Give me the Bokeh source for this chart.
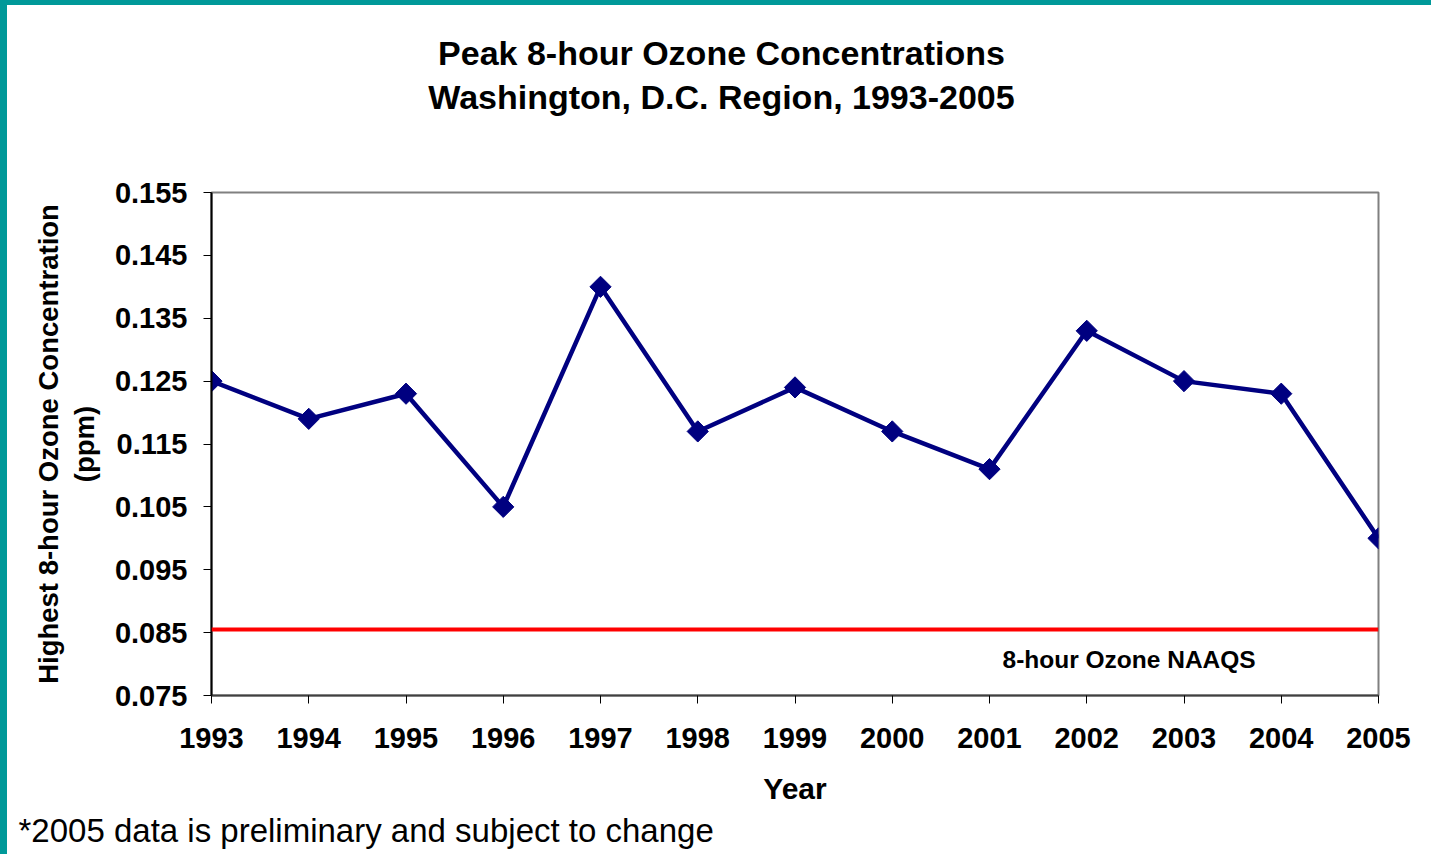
import numpy as np
from bokeh.plotting import figure
from bokeh.models import (Label, FixedTicker, PrintfTickFormatter, Span, Range1d, Title,
                          LinearAxis)
from bokeh.embed import file_html
from bokeh.resources import INLINE

# ---- data ----
years = [1993, 1994, 1995, 1996, 1997, 1998, 1999, 2000, 2001, 2002, 2003, 2004, 2005]
ozone_ppm = [0.125, 0.119, 0.123, 0.105, 0.140, 0.117, 0.124, 0.117, 0.111, 0.133, 0.125, 0.123, 0.100]
naaqs_ppm = 0.0855
y_ticks = [0.075, 0.085, 0.095, 0.105, 0.115, 0.125, 0.135, 0.145, 0.155]

title_lines = ["Peak 8-hour Ozone Concentrations", "Washington, D.C. Region, 1993-2005"]
y_label = "Highest 8-hour Ozone Concentration\n(ppm)"
x_label = "Year"
naaqs_label = "8-hour Ozone NAAQS"
footnote = "*2005 data is preliminary and subject to change"

FONT = "Liberation Sans"
TEAL = "#009999"

p = figure(width=1431, height=854, output_backend="svg", toolbar_location=None,
           x_range=Range1d(years[0], years[-1]), y_range=Range1d(y_ticks[0], y_ticks[-1]),
           min_border_left=211, min_border_right=53, min_border_top=192, min_border_bottom=159)

p.background_fill_color = "white"
p.border_fill_alpha = 0
p.styles = {"box-shadow": f"inset 7px 5px 0 0 {TEAL}", "background-color": "white"}
p.outline_line_color = "#808080"
p.outline_line_width = 2
p.xgrid.visible = False
p.ygrid.visible = False

# axes
for ax in (p.xaxis[0], p.yaxis[0]):
    ax.major_label_text_font = FONT
    ax.major_label_text_font_style = "bold"
    ax.major_label_text_font_size = "29px"
    ax.major_label_text_color = "black"
    ax.major_tick_in = 0
    ax.major_tick_out = 8
    ax.major_tick_line_color = "black"
    ax.minor_tick_line_color = None
    ax.axis_label_text_font = FONT
    ax.axis_label_text_font_style = "bold"
    ax.axis_label_text_color = "black"

p.xaxis.ticker = FixedTicker(ticks=years)
p.xaxis.axis_line_color = "#404040"
p.xaxis.axis_line_width = 2
p.xaxis.major_label_standoff = 24
p.xaxis.axis_label = x_label
p.xaxis.axis_label_text_font_size = "30px"
p.xaxis.axis_label_standoff = 21

p.yaxis.ticker = FixedTicker(ticks=y_ticks)
p.yaxis.formatter = PrintfTickFormatter(format="%.3f")
p.yaxis.axis_line_color = "black"
p.yaxis.axis_line_width = 2
p.yaxis.major_label_standoff = 16
p.yaxis.axis_label = y_label
p.yaxis.axis_label_text_font_size = "27.5px"
p.yaxis.axis_label_text_line_height = 1.15
p.yaxis.axis_label_standoff = 12

# two-line title, drawn as text of two bare axes above the plot
# (a pixel range so the title centre can sit left of the plot centre)
p.extra_x_ranges = {"title_px": Range1d(-510, 657)}
for line, standoff in ((title_lines[1], 77), (title_lines[0], 3)):
    tax = LinearAxis(x_range_name="title_px", ticker=FixedTicker(ticks=[0]),
                     major_label_overrides={0: line})
    tax.axis_line_color = None
    tax.major_tick_line_color = None
    tax.minor_tick_line_color = None
    tax.major_tick_in = 0
    tax.major_tick_out = 0
    tax.major_label_standoff = standoff
    tax.major_label_text_font = FONT
    tax.major_label_text_font_style = "bold"
    tax.major_label_text_font_size = "34px"
    tax.major_label_text_color = "black"
    p.add_layout(tax, "above")

# footnote
p.add_layout(Title(text=footnote, align="left", offset=-193, standoff=4,
                   text_font=FONT, text_font_style="normal", text_font_size="33px",
                   text_color="black"), "below")

# NAAQS line
p.add_layout(Span(location=naaqs_ppm, dimension="width", line_color="#FF0000", line_width=4))

# series
p.line(years, ozone_ppm, line_color="#000080", line_width=4.5)
p.scatter(years, ozone_ppm, marker="square", angle=np.pi / 4, size=15,
          fill_color="#000080", line_color="#000080")

p.add_layout(Label(x=791, y=36, x_units="screen", y_units="screen", text=naaqs_label,
                   text_align="left", text_baseline="alphabetic", text_font=FONT,
                   text_font_style="bold", text_font_size="24.5px", text_color="black"))

open("out.html", "w").write(file_html(p, INLINE))
